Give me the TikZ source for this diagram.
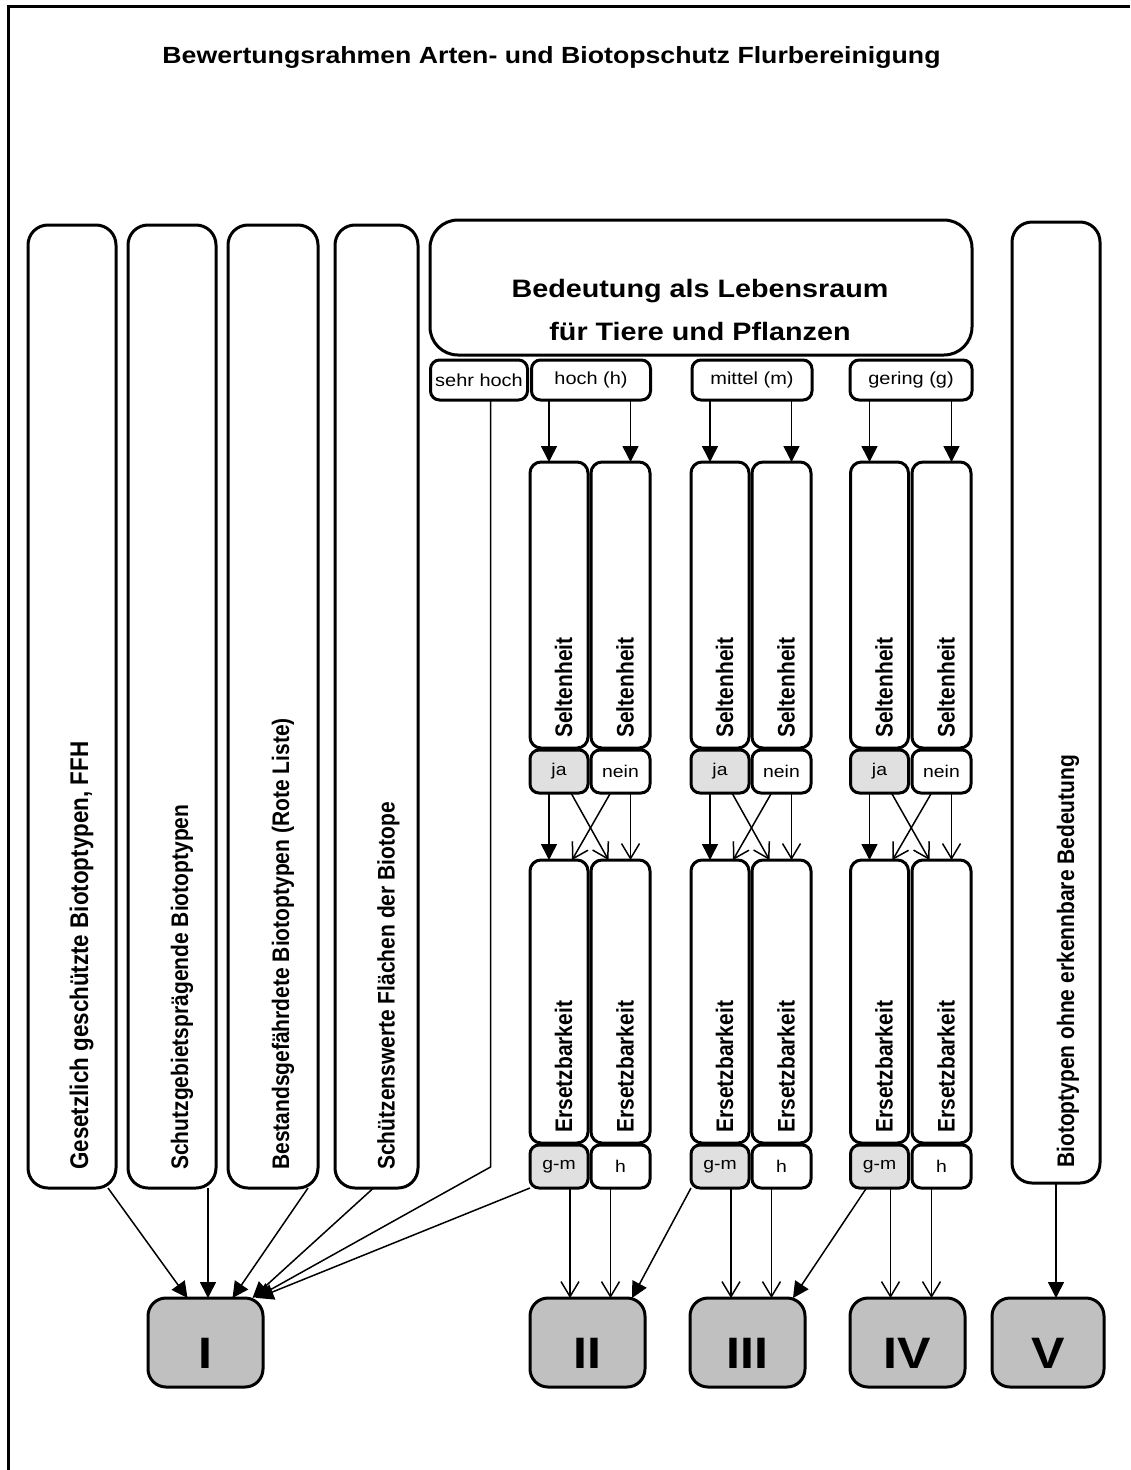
\documentclass[tikz,border=0pt]{standalone}
\usepackage{graphicx}
\usepackage{fontspec}
\setmainfont{Liberation Sans}
\usetikzlibrary{arrows.meta,calc}
\newcommand{\hs}[1]{\scalebox{1.14}[1]{#1}}
\newcommand{\vs}[1]{\scalebox{1}[1.14]{#1}}
\definecolor{lightg}{HTML}{E0E0E0}
\definecolor{classg}{HTML}{C0C0C0}
\begin{document}
\begin{tikzpicture}[x=1pt,y=-1pt,
  box/.style={draw, line width=3pt, rounded corners=12pt, inner sep=0pt, outer sep=0pt, fill=white},
  tallbox/.style={box, rounded corners=20pt},
  lvlbox/.style={box, rounded corners=9pt, minimum height=40pt, font=\fontsize{17.5}{17.5}\selectfont},
  colbox/.style={box, rounded corners=11pt},
  smallbox/.style={box, rounded corners=9pt, minimum height=43pt, font=\fontsize{17}{17}\selectfont},
  classbox/.style={box, rounded corners=18pt, fill=classg, minimum width=115pt, minimum height=89pt},
  classtxt/.style={anchor=base, inner sep=0pt, font=\bfseries\fontsize{44}{44}\selectfont},
  vt/.style={rotate=90, anchor=base west, inner sep=0pt, font=\bfseries\fontsize{21}{21}\selectfont},
  arrF/.style={line width=1.5pt, -{Triangle[length=16pt,width=16pt]}},
  arrO/.style={line width=1.5pt, -{Straight Barb[length=15pt,width=18pt,line width=1.5pt]}},
]
\useasboundingbox (0,0) rectangle (1130,1470);
% frame
\draw[line width=3pt] (8.5,1470) -- (8.5,6.5) -- (1130,6.5);
% title
\node[anchor=base, inner sep=0pt, font=\bfseries\fontsize{23.4}{23.4}\selectfont] (title) at (551.5,63) {\hs{Bewertungsrahmen Arten- und Biotopschutz Flurbereinigung}};

% left tall boxes
\node[tallbox, minimum width=88pt, minimum height=963pt] (b1) at (72,706.5) {};
\node[tallbox, minimum width=88pt, minimum height=963pt] (b2) at (172,706.5) {};
\node[tallbox, minimum width=90pt, minimum height=963pt] (b3) at (273,706.5) {};
\node[tallbox, minimum width=83pt, minimum height=963pt] (b4) at (376.5,706.5) {};
\node[tallbox, minimum width=88pt, minimum height=961pt] (b5) at (1056,702.5) {};
\node[vt, font=\bfseries\fontsize{22.4}{22.4}\selectfont] (t1) at ([xshift=16pt,yshift=18pt]b1.south) {\vs{Gesetzlich geschützte Biotoptypen, FFH}};
\node[vt] (t2) at ([xshift=16pt,yshift=18pt]b2.south) {\vs{Schutzgebietsprägende Biotoptypen}};
\node[vt] (t3) at ([xshift=16pt,yshift=18pt]b3.south) {\vs{Bestandsgefährdete Biotoptypen (Rote Liste)}};
\node[vt] (t4) at ([xshift=18pt,yshift=18pt]b4.south) {\vs{Schützenswerte Flächen der Biotope}};
\node[vt] (t5) at ([xshift=18pt,yshift=15pt]b5.south) {\vs{Biotoptypen ohne erkennbare Bedeutung}};

% header
\node[box, rounded corners=28pt, minimum width=542pt, minimum height=135pt] (hdr) at (701,287.5) {};
\node[anchor=base, inner sep=0pt, font=\bfseries\fontsize{25.2}{25.2}\selectfont] (hdr1) at (700,297) {\hs{Bedeutung als Lebensraum}};
\node[anchor=base, inner sep=0pt, font=\bfseries\fontsize{25.2}{25.2}\selectfont] (hdr2) at (700,340) {\hs{für Tiere und Pflanzen}};

% level boxes
\node[lvlbox, minimum width=97pt] (sh) at (479,380) {\hs{sehr hoch}};
\node[lvlbox, minimum width=119pt] (lvlh) at (591,380) {\raisebox{-3pt}{\hs{hoch (h)}}};
\node[lvlbox, minimum width=120pt] (lvlm) at (752,380) {\hs{mittel (m)}};
\node[lvlbox, minimum width=122pt] (lvlg) at (911,380) {\hs{gering (g)}};

% classes
\node[classbox] (cI) at (205.5,1342.5) {};
\node[classbox] (cII) at (587.5,1342.5) {};
\node[classbox] (cIII) at (747.5,1342.5) {};
\node[classbox] (cIV) at (907.5,1342.5) {};
\node[classbox, minimum width=112pt] (cV) at (1048,1342.5) {};
\node[classtxt] (tI) at (205.5,1368) {\hs{I}};
\node[classtxt] (tII) at (587.5,1368) {\hs{II}};
\node[classtxt] (tIII) at (747.5,1368) {\hs{III}};
\node[classtxt] (tIV) at (907.5,1368) {\hs{IV}};
\node[classtxt] (tV) at (1048,1368) {\hs{V}};

% groups
\foreach \g/\xa/\xb/\cl in {h/559/620.5/cII, m/720/781.5/cIII, g/879.5/941.5/cIV}{
  \node[colbox, minimum width=58pt, minimum height=286pt] (sA\g) at (\xa,605) {};
  \node[colbox, minimum width=59pt, minimum height=286pt] (sB\g) at (\xb,605) {};
  \node[vt] (tsA\g) at ([xshift=13pt,yshift=10pt]sA\g.south) {\vs{Seltenheit}};
  \node[vt] (tsB\g) at ([xshift=13pt,yshift=10pt]sB\g.south) {\vs{Seltenheit}};
  \node[smallbox, fill=lightg, minimum width=58pt] (ja\g) at (\xa,771.5) {\raisebox{-2pt}{\hs{ja}}};
  \node[smallbox, minimum width=59pt] (nein\g) at (\xb,771.5) {\hs{nein}};
  \node[colbox, minimum width=58pt, minimum height=283pt] (eA\g) at (\xa,1001.5) {};
  \node[colbox, minimum width=59pt, minimum height=283pt] (eB\g) at (\xb,1001.5) {};
  \node[vt] (teA\g) at ([xshift=13pt,yshift=10pt]eA\g.south) {\vs{Ersetzbarkeit}};
  \node[vt] (teB\g) at ([xshift=13pt,yshift=10pt]eB\g.south) {\vs{Ersetzbarkeit}};
  \node[smallbox, fill=lightg, minimum width=58pt] (gm\g) at (\xa,1166.5) {\hs{g-m}};
  \node[smallbox, minimum width=59pt] (hh\g) at (\xb,1166.5) {\raisebox{-3pt}{\hs{h}}};
  % level -> Seltenheit
  \draw[arrF] ($(sA\g.north |- lvl\g.south)+(-10,0)$) -- ($(sA\g.north)+(-10,0)$);
  \draw[arrF] ($(sB\g.north |- lvl\g.south)+(10,0)$) -- ($(sB\g.north)+(10,0)$);
  % ja/nein -> Ersetzbarkeit
  \draw[arrF] ($(ja\g.south)+(-10,0)$) -- ($(eA\g.north)+(-10,0)$);
  \draw[arrO] ($(ja\g.south)+(12,0)$) -- ($(eB\g.north)+(-12,0)$);
  \draw[arrO] ($(nein\g.south)+(-10,0)$) -- ($(eA\g.north)+(13,0)$);
  \draw[arrO] ($(nein\g.south)+(10,0)$) -- ($(eB\g.north)+(10,0)$);
  % g-m / h -> class
  \draw[arrO] ($(gm\g.south)+(11,0)$) -- ($(gm\g.south |- \cl.north)+(11,0)$);
  \draw[arrO] ($(hh\g.south)+(-10,0)$) -- ($(hh\g.south |- \cl.north)+(-10,0)$);
}

% arrows into I
\coordinate (bend) at (490.5,1167);
\draw[arrF] ($(b1.south)+(36,0)$) -- ($(cI.north)+(-18,0)$);
\draw[arrF] ($(b2.south)+(36,0)$) -- ($(b2.south |- cI.north)+(36,0)$);
\draw[arrF] ($(b3.south)+(35,0)$) -- ($(cI.north)+(27,0)$);
\draw[arrF] ($(b4.south)+(-3,0)$) -- ($(cI.north)+(47,0)$);
\draw[arrF] (sh.south -| bend) -- (bend) -- ($(cI.north)+(50,0)$);
\draw[arrF] (gmh.south west) -- ($(cI.north)+(52,0)$);
% diagonals
\draw[arrF] (gmm.south west) -- ($(cII.north east)+(-13,0)$);
\draw[arrF] ($(gmg.south)+(-13,0)$) -- ($(cIII.north east)+(-12,0)$);
% V
\draw[arrF] (b5.south) -- (b5.south |- cV.north);
\end{tikzpicture}
\end{document}
